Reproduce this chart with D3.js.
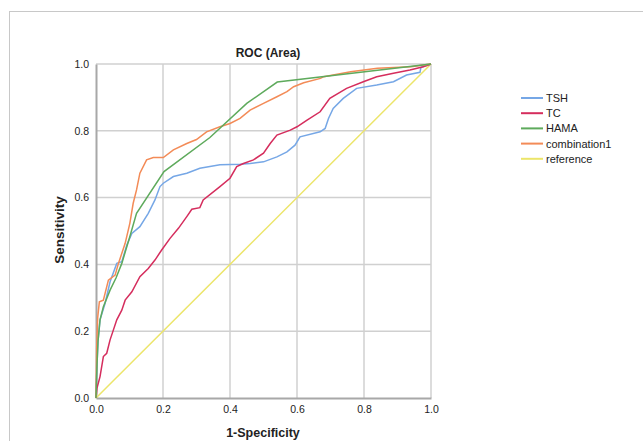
<!DOCTYPE html>
<html>
<head>
<meta charset="utf-8">
<script src="https://cdn.jsdelivr.net/npm/d3@7"></script>
<style>
  body { margin: 0; background: #fff; }
  text { font-family: "Liberation Sans", Arial, sans-serif; fill: #222; }
</style>
</head>
<body>
<svg width="643" height="441"></svg>
<script>
// ticks
var tickValues = [0.0, 0.2, 0.4, 0.6, 0.8, 1.0];

// series names + colours (legend order)
var seriesNames = ["TSH", "TC", "HAMA", "combination1", "reference"];
var seriesColors = ["#76a7e6", "#d52d5d", "#5eaa5c", "#f38b57", "#ece56a"];

// [1-specificity, sensitivity]
var tsh = [[0,0],[0.003,0.1],[0.006,0.17],[0.012,0.234],[0.027,0.283],[0.042,0.348],[0.062,0.403],
  [0.077,0.408],[0.092,0.458],[0.107,0.493],[0.131,0.513],[0.156,0.553],[0.176,0.593],[0.191,0.633],
  [0.201,0.643],[0.231,0.663],[0.271,0.673],[0.31,0.688],[0.37,0.698],[0.43,0.700],[0.46,0.702],
  [0.50,0.707],[0.54,0.722],[0.57,0.737],[0.594,0.757],[0.609,0.782],[0.669,0.797],[0.684,0.807],
  [0.694,0.837],[0.708,0.867],[0.738,0.897],[0.778,0.927],[0.838,0.937],[0.888,0.947],[0.927,0.967],
  [0.967,0.975],[0.97,0.99],[1,1]];

var tc = [[0,0],[0.003,0.03],[0.012,0.064],[0.022,0.124],[0.032,0.134],[0.042,0.174],[0.052,0.204],
  [0.062,0.234],[0.077,0.263],[0.087,0.293],[0.107,0.318],[0.131,0.363],[0.156,0.388],[0.176,0.413],
  [0.196,0.443],[0.221,0.478],[0.246,0.508],[0.271,0.543],[0.286,0.565],[0.31,0.57],[0.32,0.593],
  [0.37,0.633],[0.40,0.658],[0.42,0.693],[0.44,0.702],[0.47,0.713],[0.50,0.733],[0.52,0.762],
  [0.54,0.787],[0.58,0.802],[0.60,0.812],[0.63,0.832],[0.669,0.857],[0.698,0.897],[0.748,0.927],
  [0.798,0.947],[0.838,0.962],[0.888,0.972],[0.937,0.982],[0.977,0.992],[1,1]];

var hama = [[0,0],[0.003,0.1],[0.006,0.17],[0.012,0.234],[0.022,0.273],[0.042,0.323],[0.06,0.36],
  [0.077,0.403],[0.10,0.48],[0.121,0.553],[0.203,0.678],[0.34,0.78],[0.45,0.882],[0.541,0.946],[1,1]];

var combination1 = [[0,0],[0.002,0.15],[0.005,0.24],[0.01,0.288],[0.022,0.293],[0.037,0.353],
  [0.057,0.368],[0.067,0.403],[0.087,0.463],[0.101,0.523],[0.111,0.583],[0.121,0.623],[0.131,0.673],
  [0.151,0.713],[0.171,0.72],[0.201,0.72],[0.231,0.743],[0.271,0.762],[0.30,0.774],[0.33,0.797],
  [0.37,0.812],[0.40,0.822],[0.43,0.837],[0.46,0.862],[0.50,0.882],[0.54,0.902],[0.57,0.917],
  [0.59,0.932],[0.62,0.944],[0.67,0.957],[0.68,0.962],[0.76,0.977],[0.84,0.987],[0.94,0.992],[1,1]];

var reference = [[0,0],[1,1]];

var seriesData = [tsh, tc, hama, combination1, reference];

var svg = d3.select("svg");

// outer frame
svg.append("rect")
  .attr("x", 9.5).attr("y", 11.5)
  .attr("width", 700).attr("height", 500)
  .attr("fill", "none").attr("stroke", "#c8c8c8");

var x = d3.scaleLinear().domain([0, 1]).range([96, 431]);
var y = d3.scaleLinear().domain([0, 1]).range([398, 64]);

// grid
var grid = svg.append("g");
grid.selectAll(".gx").data(tickValues.slice(1)).enter().append("line")
  .attr("x1", function (d) { return x(d); }).attr("x2", function (d) { return x(d); })
  .attr("y1", y(0)).attr("y2", y(1))
  .attr("stroke", "#d0d0d0").attr("stroke-width", 1.5);
grid.selectAll(".gy").data(tickValues.slice(1)).enter().append("line")
  .attr("y1", function (d) { return y(d); }).attr("y2", function (d) { return y(d); })
  .attr("x1", x(0)).attr("x2", x(1))
  .attr("stroke", "#d0d0d0").attr("stroke-width", 1.5);

// axes
var xAxis = svg.append("g")
  .attr("transform", "translate(0," + y(0) + ")")
  .call(d3.axisBottom(x).tickValues(tickValues).tickFormat(d3.format(".1f")).tickSize(0).tickPadding(8));
var yAxis = svg.append("g")
  .attr("transform", "translate(" + x(0) + ",0)")
  .call(d3.axisLeft(y).tickValues(tickValues).tickFormat(d3.format(".1f")).tickSize(0).tickPadding(7));
[xAxis, yAxis].forEach(function (a) {
  a.select(".domain").attr("stroke", "#a8a8a8").attr("stroke-width", 2);
  a.selectAll("text").attr("font-size", "10.5px").attr("fill", "#333")
    .attr("font-family", "'Liberation Sans', Arial, sans-serif");
});

// curves
var line = d3.line()
  .x(function (d) { return x(d[0]); })
  .y(function (d) { return y(d[1]); });

// draw reference first, then the rest on top
var order = [4, 0, 1, 3, 2];
order.forEach(function (i) {
  svg.append("path")
    .datum(seriesData[i])
    .attr("d", line)
    .attr("fill", "none")
    .attr("stroke", seriesColors[i])
    .attr("stroke-width", 1.5);
});

// titles
svg.append("text").attr("x", 268).attr("y", 57).attr("text-anchor", "middle")
  .attr("font-size", "12px").attr("font-weight", "bold").text("ROC (Area)");
svg.append("text").attr("x", 263).attr("y", 437).attr("text-anchor", "middle")
  .attr("font-size", "12.5px").attr("font-weight", "bold").text("1-Specificity");
svg.append("text").attr("transform", "translate(64,230) rotate(-90)").attr("text-anchor", "middle")
  .attr("font-size", "13.5px").attr("font-weight", "bold").text("Sensitivity");

// legend
var legend = svg.append("g").attr("transform", "translate(521,98)");
var item = legend.selectAll("g").data(seriesNames).enter().append("g")
  .attr("transform", function (d, i) { return "translate(0," + (i * 15.2) + ")"; });
item.append("line").attr("x1", 0).attr("x2", 22).attr("y1", 0).attr("y2", 0)
  .attr("stroke", function (d, i) { return seriesColors[i]; }).attr("stroke-width", 2);
item.append("text").attr("x", 25).attr("y", 4).attr("font-size", "11px").attr("fill", "#333")
  .text(function (d) { return d; });
</script>
</body>
</html>
